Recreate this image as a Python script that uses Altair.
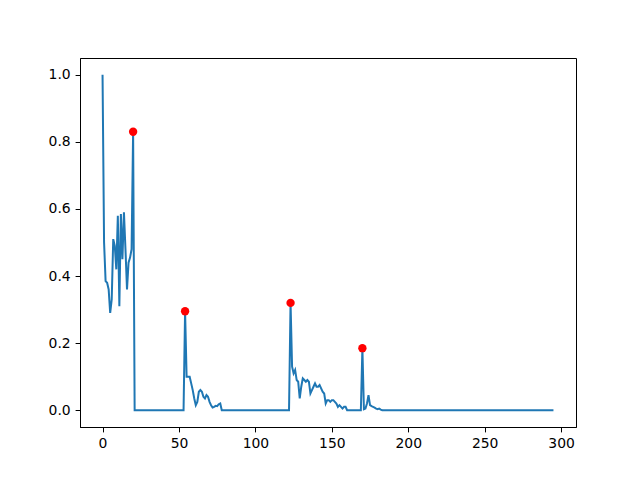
import altair as alt
import pandas as pd

seg_a = [1.0, 0.5, 0.385, 0.38, 0.36, 0.29, 0.33, 0.51, 0.49, 0.42, 0.58, 0.31,
         0.585, 0.45, 0.59, 0.48, 0.36, 0.44, 0.455, 0.48, 0.83]
seg_b = [0.295, 0.10, 0.10, 0.10, 0.08, 0.06, 0.035, 0.015, 0.025, 0.055, 0.06, 0.055,
         0.04, 0.035, 0.045, 0.04, 0.025, 0.015, 0.008, 0.01, 0.013, 0.012, 0.018, 0.02]
seg_c = [0.32, 0.13, 0.11, 0.12, 0.09, 0.085, 0.035, 0.07, 0.095, 0.09, 0.085, 0.09,
         0.085, 0.05, 0.06, 0.07, 0.08, 0.07, 0.07, 0.075, 0.065, 0.055, 0.05, 0.02,
         0.03, 0.03, 0.025, 0.03, 0.03, 0.025, 0.02, 0.01, 0.015, 0.01, 0.005, 0.01, 0.01]
seg_d = [0.185, 0.003, 0.005, 0.02, 0.045, 0.015, 0.012, 0.01, 0.008, 0.005, 0.003,
         0.005, 0.002]

values = (seg_a + [0.0] * 33 + seg_b + [0.0] * 45 + seg_c + [0.0] * 10 + seg_d
          + [0.0] * 113)
peak_idx = [20, 54, 123, 170]
peak_vals = [values[i] for i in peak_idx]

df = pd.DataFrame({"x": list(range(len(values))), "y": values})
pk = pd.DataFrame({"x": peak_idx, "y": peak_vals})

xs = alt.Scale(domain=[-14.75, 309.75], nice=False, zero=False)
ys = alt.Scale(domain=[-0.05, 1.05], nice=False, zero=False)
xax = alt.Axis(values=[0, 50, 100, 150, 200, 250, 300], title=None, grid=False, format="d")
yax = alt.Axis(values=[0.0, 0.2, 0.4, 0.6, 0.8, 1.0], title=None, grid=False, format=".1f")

line = alt.Chart(df).mark_line(color="#1f77b4", strokeWidth=2, clip=True).encode(
    x=alt.X("x:Q", scale=xs, axis=xax),
    y=alt.Y("y:Q", scale=ys, axis=yax),
)
pts = alt.Chart(pk).mark_circle(color="red", opacity=1, size=70).encode(
    x=alt.X("x:Q", scale=xs),
    y=alt.Y("y:Q", scale=ys),
)

chart = (line + pts).properties(
    width=496, height=369,
    autosize=alt.AutoSizeParams(type="none"),
    padding={"left": 72, "top": 50, "right": 56, "bottom": 45},
).configure_view(stroke="black", strokeWidth=1).configure_axis(
    domainColor="black", tickColor="black", labelColor="black",
    labelFont="DejaVu Sans", labelFontSize=13.9, tickSize=4.9, labelPadding=4.9,
    domainWidth=1, tickWidth=1,
)

chart.save("out.html", embed_options={"renderer": "svg", "actions": False})
